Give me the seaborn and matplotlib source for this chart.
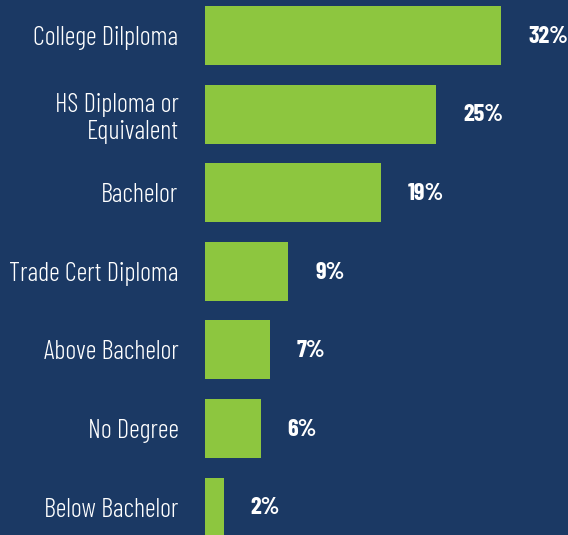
import matplotlib
matplotlib.use("Agg")
import matplotlib.pyplot as plt
import seaborn as sns
import pandas as pd

categories = ["College Dilploma", "HS Diploma or\nEquivalent", "Bachelor", "Trade Cert Diploma",
              "Above Bachelor", "No Degree", "Below Bachelor"]
values = [32, 25, 19, 9, 7, 6, 2]
value_labels = ["32%", "25%", "19%", "9%", "7%", "6%", "2%"]

BG = "#1b3964"
GREEN = "#8dc63f"

sns.set_theme(style="white")
plt.rcParams['font.family'] = ['Barlow Condensed', 'DejaVu Sans']

df = pd.DataFrame({"cat": categories, "val": values})

W, H = 568, 535
fig = plt.figure(figsize=(W / 100, H / 100), dpi=100, facecolor=BG)
ax = fig.add_axes([205 / W, 0, (W - 205) / W, 1])
ax.set_facecolor(BG)

sns.barplot(data=df, x="val", y="cat", orient="h", color=GREEN, saturation=1,
            width=0.75, linewidth=0, edgecolor="none", ax=ax)

ax.set_xlim(0, (W - 205) / 9.25)
ax.set_ylim((H - 35.5) / 78.6, -35.5 / 78.6)
for s in ax.spines.values():
    s.set_visible(False)
ax.set_xticks([])
ax.set_xlabel("")
ax.set_ylabel("")
ax.tick_params(axis="y", length=0, pad=19, labelcolor="white", labelsize=19)
for t in ax.get_yticklabels():
    t.set_ha("right")
    t.set_fontweight(300)
    t.set_linespacing(1.2)

for i, (v, lab) in enumerate(zip(values, value_labels)):
    ax.annotate(lab, xy=(v, i), xytext=(19.5, -1), textcoords="offset points",
                ha="left", va="center", color="white", fontsize=17.5, fontweight="bold")

fig.savefig("out.png", dpi=100, facecolor=BG)
